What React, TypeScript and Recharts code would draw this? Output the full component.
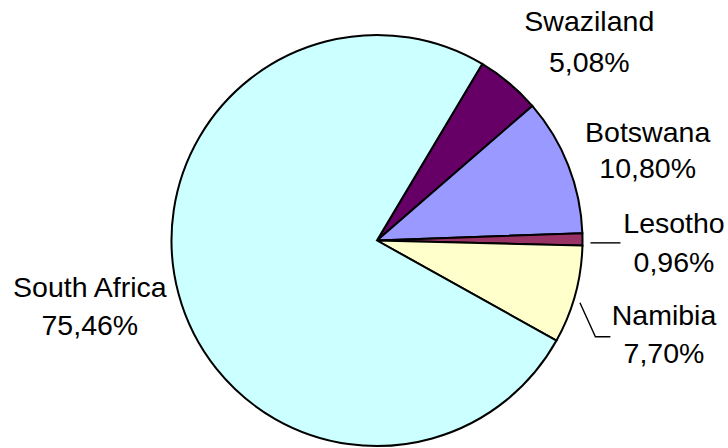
import React from 'react';
import { PieChart, Pie, Cell } from 'recharts';

const countries = ['Swaziland', 'Botswana', 'Lesotho', 'Namibia', 'South Africa'];
const shares = [5.08, 10.8, 0.96, 7.7, 75.46];
const colors = ['#660066', '#9999FF', '#993366', '#FFFFCC', '#CCFFFF'];

const data = countries.map((name, i) => ({ name, value: shares[i] }));

// label placement tweaks relative to a radial anchor (dx, first baseline dy, second baseline dy)
const labelNudge: Record<string, [number, number, number]> = {
  Swaziland: [29, 9.5, 50.5],
  Botswana: [5, 6, 42],
  Lesotho: [11.5, -6, 33],
  Namibia: [11.6, 9, 47],
  'South Africa': [-11.4, -18, 20],
};

const RAD = Math.PI / 180;
const FONT = '"Liberation Sans", Arial, sans-serif';

const renderLabel = (props: any) => {
  const { cx, cy, midAngle, outerRadius, name, value } = props;
  const R = outerRadius + 80;
  const ax = cx + R * Math.cos(-midAngle * RAD);
  const ay = cy + R * Math.sin(-midAngle * RAD);
  const [dx, dy1, dy2] = labelNudge[name] || [0, 0, 30];
  const sx = cx + (outerRadius + 8) * Math.cos(-midAngle * RAD);
  const sy = cy + (outerRadius + 8) * Math.sin(-midAngle * RAD);
  let line: React.ReactNode = null;
  if (name === 'Lesotho') {
    line = <polyline points={`${sx},${sy + 3.5} ${ax - 42},${sy + 3.5}`} fill="none" stroke="#000" strokeWidth={1.4} />;
  } else if (name === 'Namibia') {
    line = (
      <polyline
        points={`${sx - 3},${sy + 6} ${ax - 57},${ay + 21} ${ax - 42},${ay + 21}`}
        fill="none"
        stroke="#000"
        strokeWidth={1.4}
      />
    );
  }
  return (
    <g>
      {line}
      <text x={ax + dx} y={ay + dy1} textAnchor="middle" fontFamily={FONT} fontSize={28.5} fill="#000">
        {name}
      </text>
      <text x={ax + dx} y={ay + dy2} textAnchor="middle" fontFamily={FONT} fontSize={28.5} fill="#000">
        {value.toFixed(2).replace('.', ',') + '%'}
      </text>
    </g>
  );
};

export default function App() {
  return (
    <div style={{ position: 'absolute', left: 0, top: 0, width: 728, height: 448, background: '#fff' }}>
      <PieChart width={728} height={448} margin={{ top: 0, right: 0, bottom: 0, left: 0 }}>
        <Pie
          data={data}
          dataKey="value"
          nameKey="name"
          cx={377}
          cy={240.5}
          outerRadius={205.5}
          innerRadius={0}
          startAngle={59.2}
          endAngle={-300.8}
          stroke="#000"
          strokeWidth={2}
          label={renderLabel}
          labelLine={false}
          isAnimationActive={false}
        >
          {data.map((d, i) => (
            <Cell key={d.name} fill={colors[i]} stroke="#000" strokeWidth={2} />
          ))}
        </Pie>
      </PieChart>
    </div>
  );
}
